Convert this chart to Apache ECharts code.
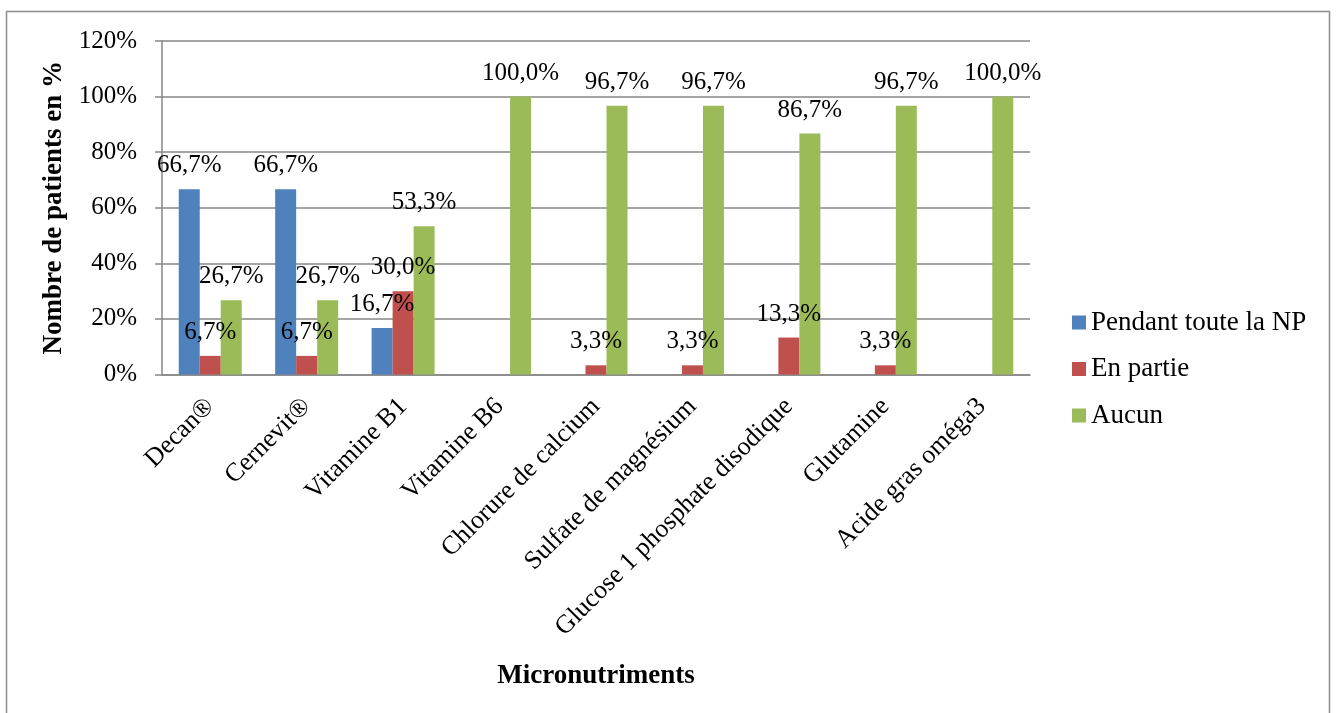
<!DOCTYPE html>
<html>
<head>
<meta charset="utf-8">
<script src="https://cdn.jsdelivr.net/npm/echarts@6/dist/echarts.min.js"></script>
<style>
html,body{margin:0;padding:0;background:#fff;}
#chart{width:1336px;height:713px;}
</style>
</head>
<body>
<div id="chart"></div>
<script>
const categories = ['Decan®','Cernevit®','Vitamine B1','Vitamine B6','Chlorure de calcium','Sulfate de magnésium','Glucose 1 phosphate disodique','Glutamine','Acide gras oméga3'];
const seriesNames = ['Pendant toute la NP','En partie','Aucun'];
const pendant = [66.7, 66.7, 16.7, 0, 0, 0, 0, 0, 0];
const enPartie = [6.7, 6.7, 30.0, 0, 3.3, 3.3, 13.3, 3.3, 0];
const aucun = [26.7, 26.7, 53.3, 100.0, 96.7, 96.7, 86.7, 96.7, 100.0];
const yTicks = [0, 20, 40, 60, 80, 100, 120];

const FONT = "'Liberation Serif', 'Times New Roman', serif";
const colors = ['#4F81BD', '#C0504D', '#9BBB59'];

function fmt(p) {
  if (!p.value) return '';
  return p.value.toFixed(1).replace('.', ',') + '%';
}

const chart = echarts.init(document.getElementById('chart'));
const seriesData = [pendant, enPartie, aucun];
chart.setOption({
  animation: false,
  backgroundColor: '#fff',
  graphic: [{
    type: 'rect',
    shape: { x: 6.5, y: 11.5, width: 1323, height: 720 },
    style: { fill: 'none', stroke: '#8c8c8c', lineWidth: 1.5 },
    silent: true
  }],
  grid: { left: 162, right: 306, top: 41, bottom: 338.5, containLabel: false },
  legend: {
    orient: 'vertical',
    left: 1072,
    top: 309,
    padding: 0,
    itemWidth: 14,
    itemHeight: 14,
    itemGap: 19.5,
    icon: 'rect',
    textStyle: { fontFamily: FONT, fontSize: 27, color: '#000', lineHeight: 26 },
    data: seriesNames
  },
  xAxis: {
    type: 'category',
    data: categories,
    name: 'Micronutriments',
    nameLocation: 'middle',
    nameGap: 288,
    nameTextStyle: { fontFamily: FONT, fontSize: 27, fontWeight: 'bold', color: '#000' },
    axisLine: { lineStyle: { color: '#868686', width: 1.5 } },
    axisTick: { show: false },
    axisLabel: { rotate: 45, interval: 0, margin: 28, fontFamily: FONT, fontSize: 26, color: '#000' }
  },
  yAxis: {
    type: 'value',
    min: 0, max: 120, interval: 20,
    name: 'Nombre de patients en %',
    nameLocation: 'middle',
    nameGap: 91,
    nameRotate: 90,
    nameTextStyle: { fontFamily: FONT, fontSize: 27, fontWeight: 'bold', color: '#000' },
    axisLine: { show: true, lineStyle: { color: '#868686', width: 1.5 } },
    axisTick: { show: true, length: 7, lineStyle: { color: '#868686', width: 1.5 } },
    splitLine: { lineStyle: { color: '#868686', width: 1.5 } },
    axisLabel: {
      margin: 25, fontFamily: FONT, fontSize: 25, color: '#000',
      formatter: v => (yTicks.includes(v) ? v + '%' : '')
    }
  },
  series: seriesData.map((d, i) => ({
    name: seriesNames[i],
    type: 'bar',
    data: d,
    barWidth: 21,
    barGap: '0%',
    itemStyle: { color: colors[i] },
    label: {
      show: true, position: 'top', distance: 11,
      fontFamily: FONT, fontSize: 25, color: '#000',
      formatter: fmt
    }
  }))
});
</script>
</body>
</html>
